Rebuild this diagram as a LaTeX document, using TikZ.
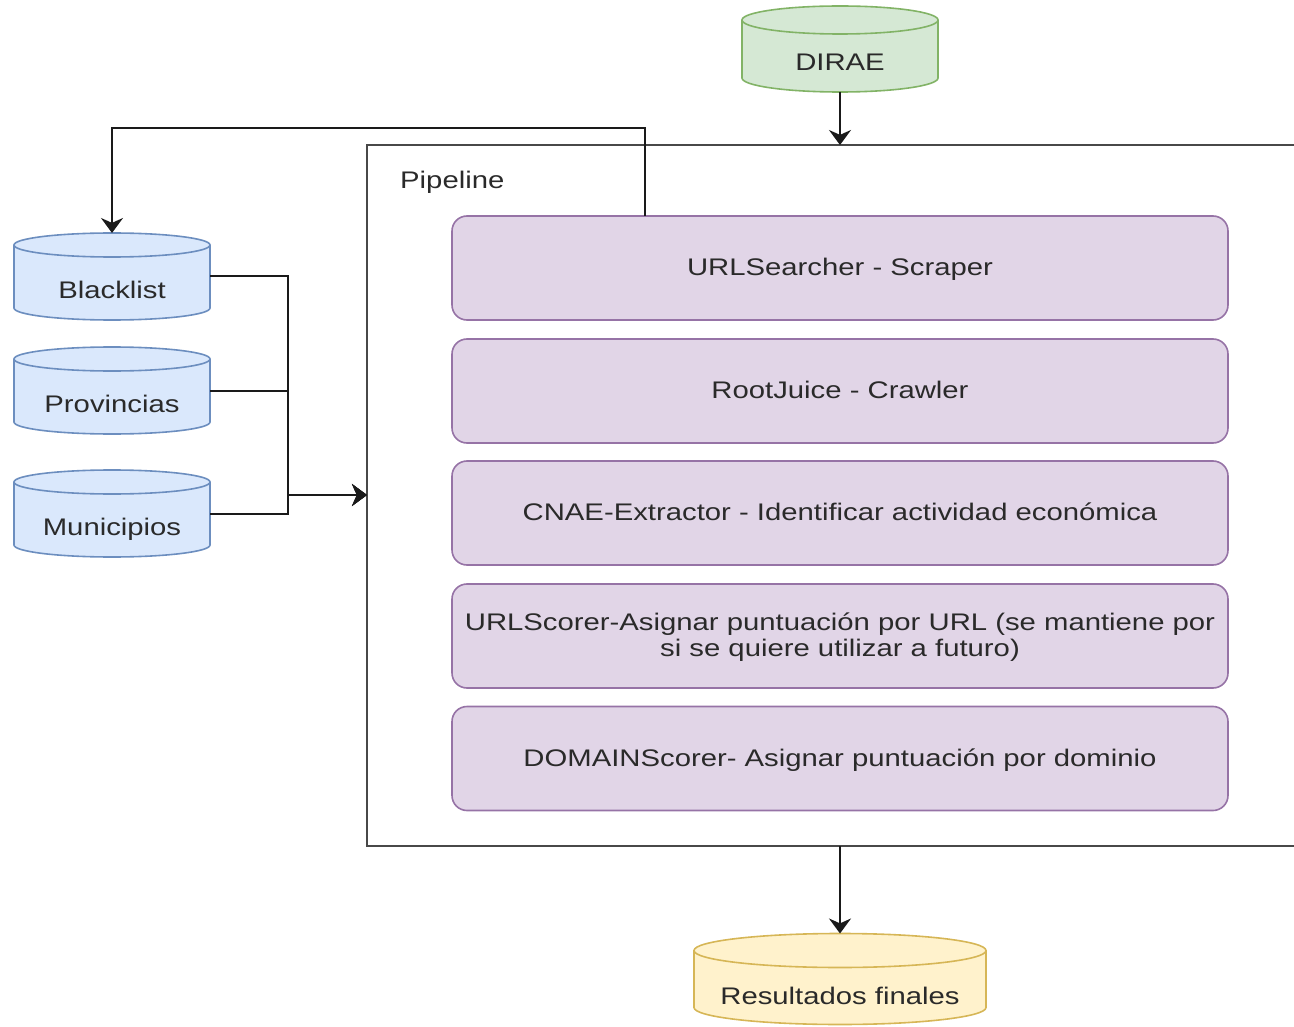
\documentclass[tikz,border=0pt]{standalone}
\usepackage{fontspec}
\setmainfont{Liberation Sans}[FakeStretch=1.22]
\usetikzlibrary{arrows.meta,calc,backgrounds}
\definecolor{txt}{HTML}{2A2A2A}
\definecolor{blueF}{HTML}{DAE8FC}
\definecolor{blueS}{HTML}{6C8EBF}
\definecolor{greenF}{HTML}{D5E8D4}
\definecolor{greenS}{HTML}{82B366}
\definecolor{yelF}{HTML}{FFF2CC}
\definecolor{yelS}{HTML}{D6B656}
\definecolor{purF}{HTML}{E1D5E7}
\definecolor{purS}{HTML}{9673A6}
\definecolor{lineC}{HTML}{1A1A1A}
\newcommand\dbtext[2]{\raisebox{-#1pt}[0.75em][0.2em]{#2}}
\newcommand\dbcyl[5]{%
  \draw[fill=#4, draw=#5, line width=1.6pt]
    ([yshift=-#3pt]#1.north west) -- ([yshift=#3pt]#1.south west)
    arc[start angle=180,end angle=360,x radius=#2pt,y radius=#3pt]
    -- ([yshift=-#3pt]#1.north east)
    arc[start angle=0,end angle=180,x radius=#2pt,y radius=#3pt] -- cycle;
  \draw[draw=#5, line width=1.6pt] ([yshift=-#3pt]#1.north west)
    arc[start angle=180,end angle=360,x radius=#2pt,y radius=#3pt];
}
\tikzset{
  db/.style={inner sep=0pt, outer sep=0pt, text=txt, font=\fontsize{24}{28}\selectfont},
  stage/.style={rounded corners=15pt, draw=purS, fill=purF, line width=1.6pt,
    minimum width=776pt, minimum height=104pt, inner sep=0pt, outer sep=0pt,
    text=txt, align=center, font=\fontsize{24}{26}\selectfont, text depth=2pt},
  pipebox/.style={draw=lineC!80, line width=2pt, inner sep=0pt, outer sep=0pt},
  conn/.style={line width=2pt, draw=lineC, -{Stealth[length=15pt,width=22pt]}},
  lbl/.style={text=txt, font=\fontsize{24}{28}\selectfont, inner sep=0pt}
}
\begin{document}
\begin{tikzpicture}[x=1pt,y=1pt]
\useasboundingbox (0,0) rectangle (1294,-1027);
% pipeline container
\node[pipebox, minimum width=943pt, minimum height=701pt, anchor=north west] (pipe) at (367,-145) {};
\node[lbl, anchor=west] (plabel) at (400,-182) {Pipeline};
% stages
\node[stage] (s1) at (840,-268) {URLSearcher - Scraper};
\node[stage] (s2) at (840,-391) {RootJuice - Crawler};
\node[stage] (s3) at (840,-513) {CNAE-Extractor - Identificar actividad económica};
\node[stage] (s4) at (840,-636) {URLScorer-Asignar puntuación por URL (se mantiene por\\si se quiere utilizar a futuro)};
\node[stage] (s5) at (840,-758.5) {DOMAINScorer- Asignar puntuación por dominio};
% databases
\node[db, minimum width=196pt, minimum height=86pt] (dirae) at (840,-49) {\dbtext{15}{DIRAE}};
\node[db, minimum width=196pt, minimum height=87pt] (bl) at (112,-276.5) {\dbtext{15}{Blacklist}};
\node[db, minimum width=196pt, minimum height=87pt] (prov) at (112,-390.5) {\dbtext{15}{Provincias}};
\node[db, minimum width=196pt, minimum height=87pt] (muni) at (112,-513.5) {\dbtext{15}{Municipios}};
\node[db, minimum width=292pt, minimum height=91pt] (res) at (840,-979) {\dbtext{19}{Resultados finales}};
\begin{pgfonlayer}{background}
  \dbcyl{dirae}{98}{14}{greenF}{greenS}
  \dbcyl{bl}{98}{12}{blueF}{blueS}
  \dbcyl{prov}{98}{12}{blueF}{blueS}
  \dbcyl{muni}{98}{12}{blueF}{blueS}
  \dbcyl{res}{146}{17}{yelF}{yelS}
\end{pgfonlayer}
% connectors
\coordinate (lp) at (645,-128);
\coordinate (j) at (288,-495);
\draw[conn] (dirae.south) -- (dirae.south |- pipe.north);
\draw[conn] (s1.north -| lp) -- (lp) -| (bl.north);
\draw[conn] (bl.east) -| (j) -- (j -| pipe.west);
\draw[conn] (prov.east) -| (j) -- (j -| pipe.west);
\draw[conn] (muni.east) -| (j) -- (j -| pipe.west);
\draw[conn] (pipe.south -| res) -- (res.north);
\end{tikzpicture}
\end{document}
